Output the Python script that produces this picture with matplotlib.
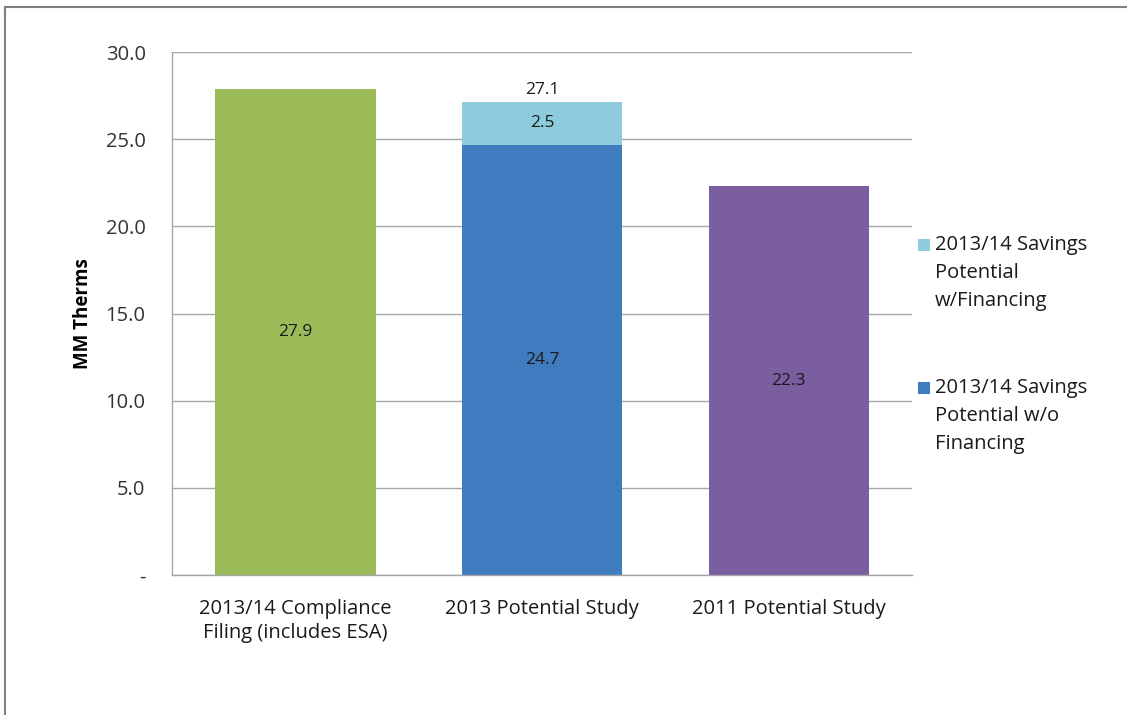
import matplotlib
matplotlib.use("Agg")
import matplotlib.pyplot as plt
from matplotlib.lines import Line2D
from matplotlib.patches import Rectangle

# ── Data ──
categories = ["2013/14 Compliance\nFiling (includes ESA)", "2013 Potential Study", "2011 Potential Study"]
base_values = [27.9, 24.66, 22.3]
financing_values = [0, 2.48, 0]
bar_colors = ["#9BBB59", "#3F7CBF", "#7B5EA0"]
fin_color = "#8ECCDD"
legend_labels = ["2013/14 Savings\nPotential\nw/Financing", "2013/14 Savings\nPotential w/o\nFinancing"]
legend_colors = [fin_color, bar_colors[1]]
yticks = [0, 5, 10, 15, 20, 25, 30]
ytick_labels = ["-", "5.0", "10.0", "15.0", "20.0", "25.0", "30.0"]

FONT = ["Open Sans", "DejaVu Sans"]
plt.rcParams["font.family"] = FONT
W, H = 1127, 715

fig = plt.figure(figsize=(W / 100, H / 100), dpi=100)
fig.patch.set_facecolor("white")
ax = fig.add_axes([172 / W, 1 - 575 / H, 740 / W, 523 / H])

x = list(range(len(categories)))
ax.bar(x, base_values, width=0.65, color=bar_colors, zorder=2)
ax.bar(x[1], financing_values[1], bottom=base_values[1], width=0.65,
       color=fin_color, zorder=2)

# data labels
LBL = dict(ha="center", va="center", fontsize=12.5, color="#1a1a1a")
for i, v in enumerate(base_values):
    ax.text(i, v / 2, f"{v:.1f}", **LBL)
ax.text(1, base_values[1] + financing_values[1] / 2, f"{financing_values[1]:.1f}", **LBL)
total = base_values[1] + financing_values[1]
ax.text(1, total + 0.2, f"{total:.1f}", ha="center", va="bottom", fontsize=12.5, color="#1a1a1a")

ax.set_xlim(-0.5, 2.5)
ax.set_ylim(0, 30)
ax.set_yticks(yticks)
ax.set_yticklabels(ytick_labels, fontsize=14.5, color="#333333")
ax.set_xticks(x)
ax.set_xticklabels(categories, fontsize=14.5, color="#1a1a1a", linespacing=1.3)
ax.tick_params(axis="y", length=0, pad=19)
ax.tick_params(axis="x", length=0, pad=17)
ax.yaxis.grid(True, color="#A6A6A6", lw=1, zorder=0)
ax.set_axisbelow(True)
for s in ax.spines.values():
    s.set_color("#A6A6A6")
    s.set_linewidth(1)
ax.spines["top"].set_visible(False)
ax.spines["right"].set_visible(False)

ax.set_ylabel("MM Therms", fontsize=13.5, fontweight="bold", labelpad=9)

# legend (drawn by hand to match the wrapped Excel layout)
leg_tops = [245, 388]
line_h = 28
for top, lbl, col in zip(leg_tops, legend_labels, legend_colors):
    fig.add_artist(Rectangle((918 / W, 1 - (top + 6) / H), 12 / W, 12 / H,
                             facecolor=col, edgecolor="none", transform=fig.transFigure))
    for j, line in enumerate(lbl.split("\n")):
        fig.text(935 / W, 1 - (top + j * line_h) / H, line, ha="left", va="center",
                 fontsize=14.5, color="#1a1a1a")

# outer chart border (left and top)
fig.add_artist(Line2D([4.5 / W, 4.5 / W], [0, 1 - 6.5 / H], color="#808080", lw=1.5,
                      transform=fig.transFigure))
fig.add_artist(Line2D([4.5 / W, 1], [1 - 6.5 / H, 1 - 6.5 / H], color="#808080", lw=1.5,
                      transform=fig.transFigure))

fig.savefig("out.png", dpi=100, facecolor="white")
